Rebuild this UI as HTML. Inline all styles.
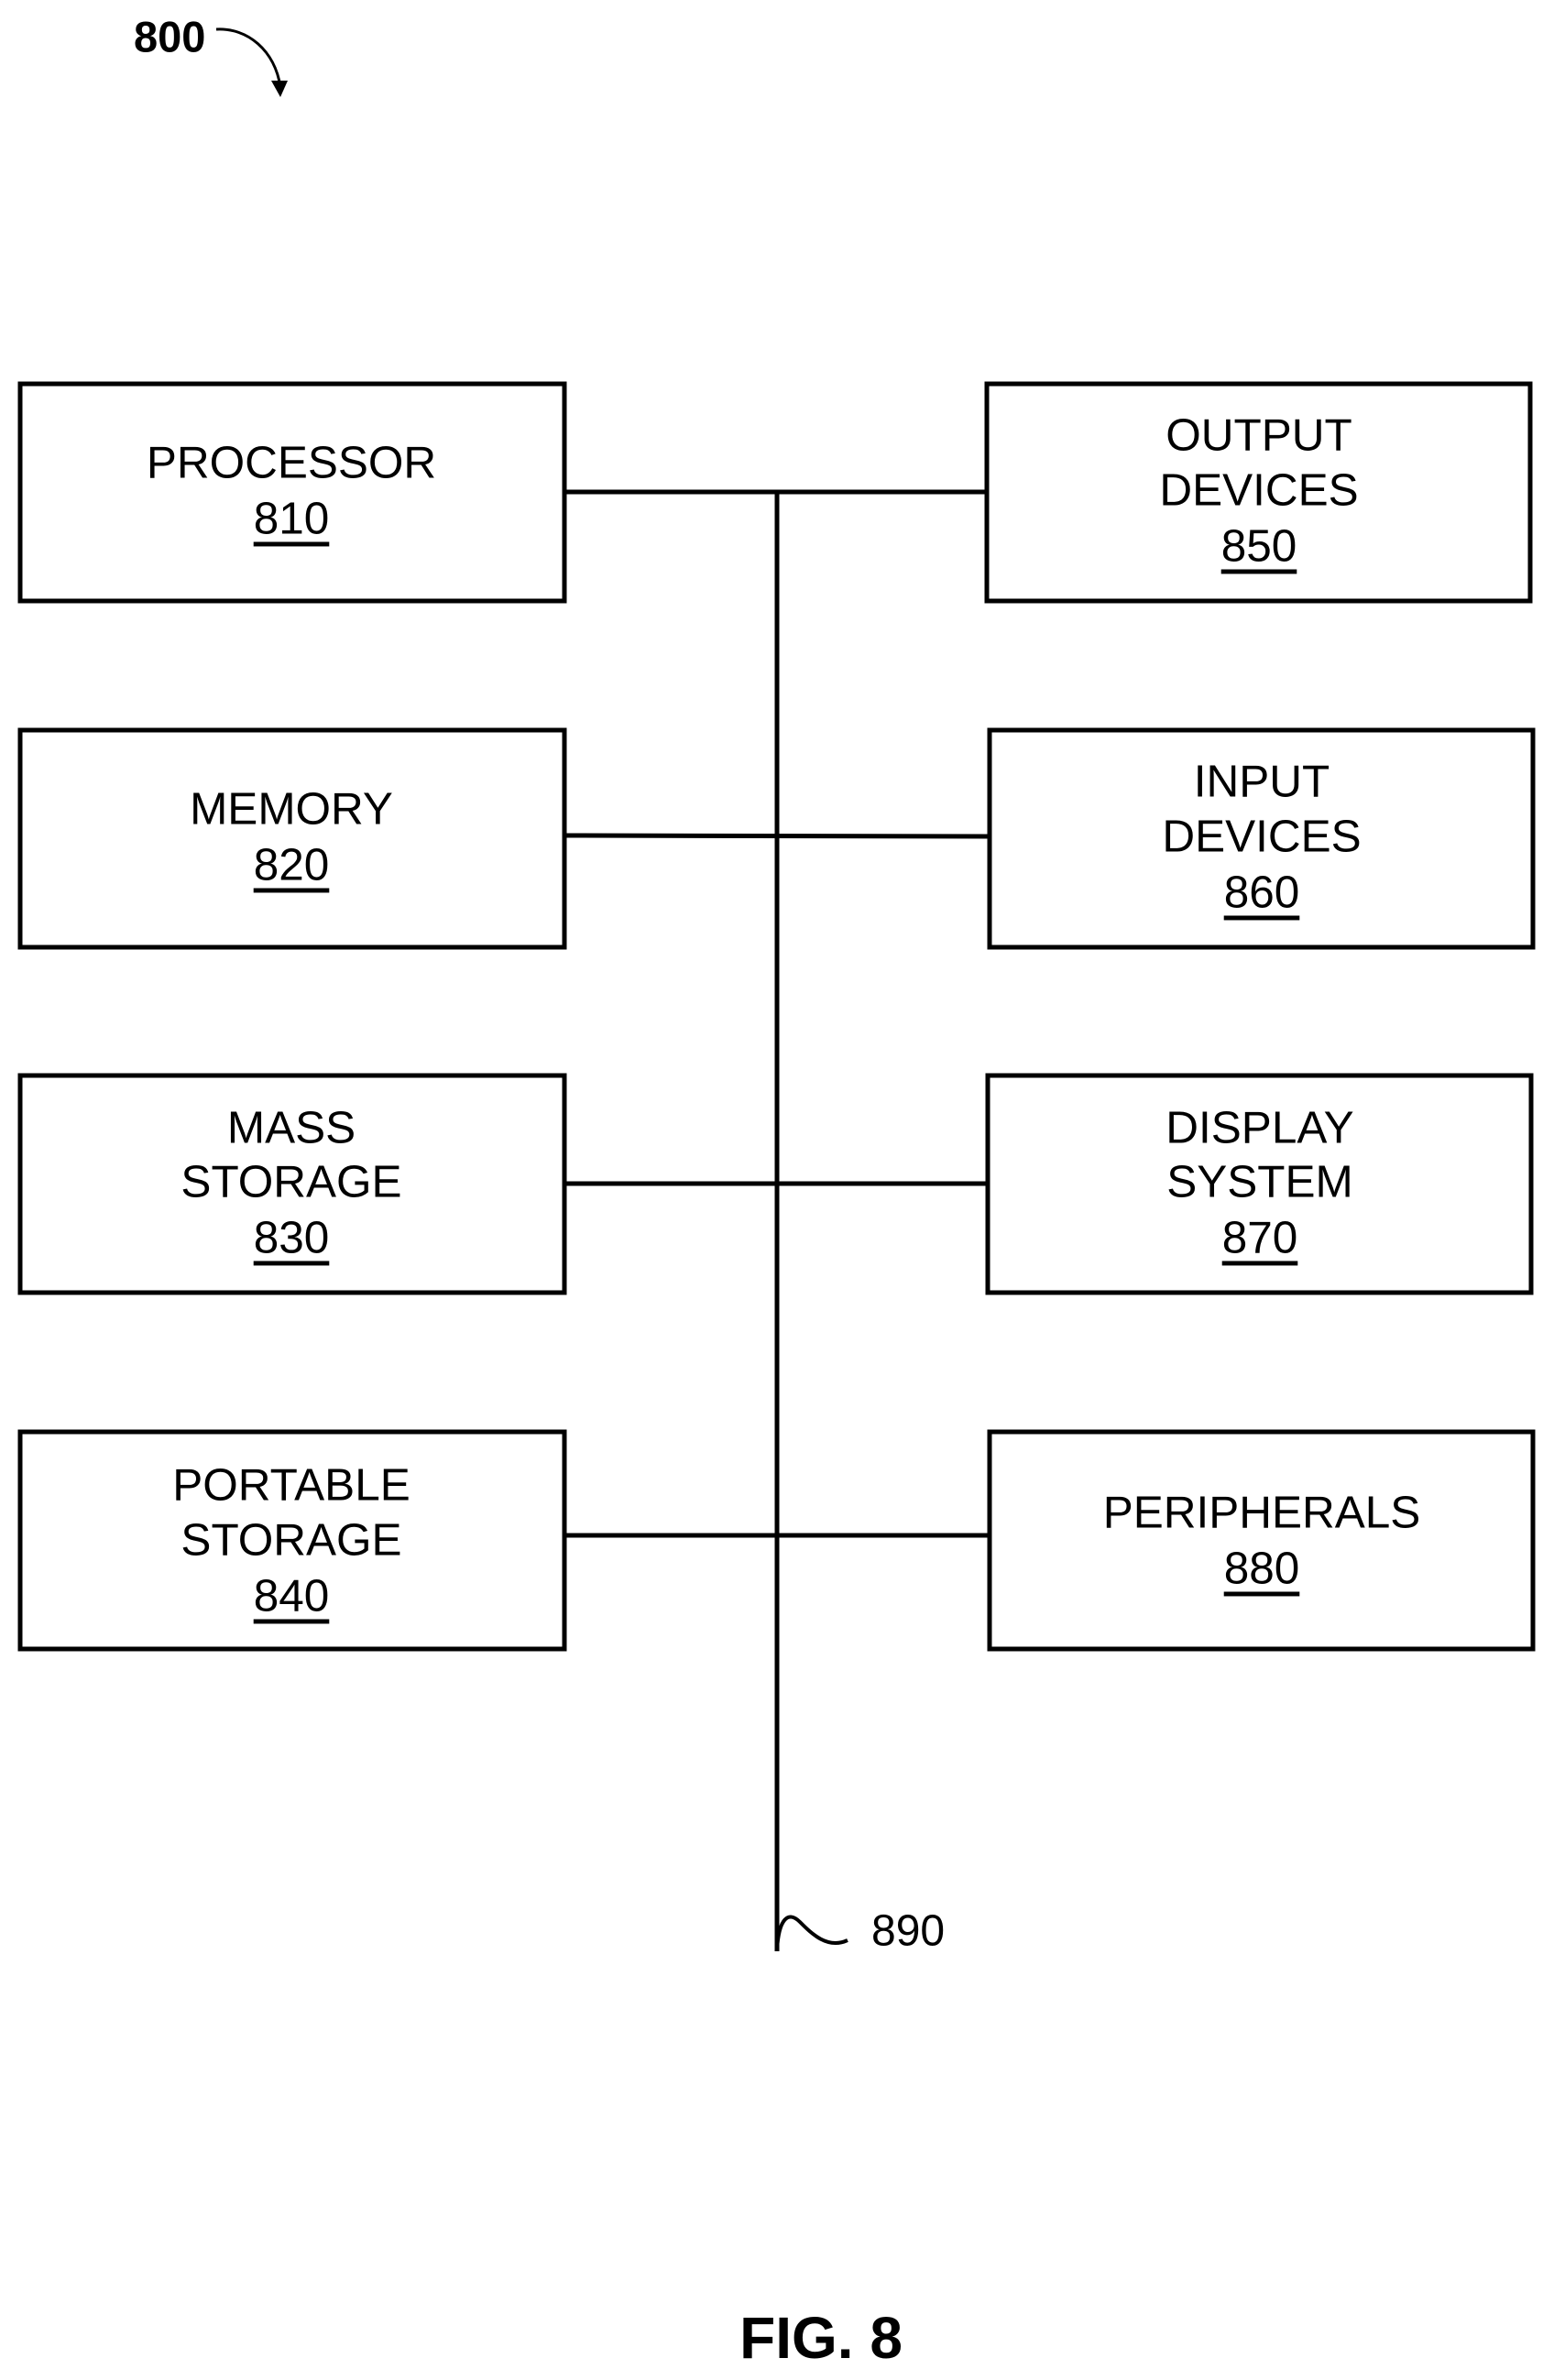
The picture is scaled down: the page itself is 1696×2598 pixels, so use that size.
<!DOCTYPE html>
<html><head><meta charset="utf-8"><style>
html,body{margin:0;padding:0;background:#fff;}
svg{display:block;}
text{font-family:"Liberation Sans",sans-serif;fill:#000;}
.t{font-size:49.5px;text-anchor:middle;dominant-baseline:central;}
.u{text-decoration:underline;}
</style></head><body>
<svg width="1696" height="2598" viewBox="0 0 1696 2598" xmlns="http://www.w3.org/2000/svg">
<g fill="none" stroke="#000" stroke-width="5">
<rect x="22" y="419" width="594" height="237"/>
<rect x="1077" y="419" width="593" height="237"/>
<rect x="22" y="797" width="594" height="237"/>
<rect x="1080" y="797" width="593" height="237"/>
<rect x="22" y="1174" width="594" height="237"/>
<rect x="1078" y="1174" width="593" height="237"/>
<rect x="22" y="1563" width="594" height="237"/>
<rect x="1080" y="1563" width="593" height="237"/>
<line x1="848" y1="535" x2="848" y2="2130"/>
<line x1="616" y1="537" x2="1077" y2="537"/>
<line x1="616" y1="912" x2="1080" y2="913"/>
<line x1="616" y1="1292" x2="1078" y2="1292"/>
<line x1="616" y1="1676" x2="1080" y2="1676"/>
<path d="M848 2128 C850 2095 860 2085 873 2098 S903 2128 925 2118" stroke-width="4"/>
<path d="M236 32 C270 30 300 55 306 95" stroke-width="3"/>
</g>
<path d="M296 88 L306 106 L314 88 Z" fill="#000"/>
<text x="146" y="40" style="font-size:47px;font-weight:bold;dominant-baseline:central;">800</text>
<text class="t" x="318" y="505">PROCESSOR</text>
<text class="t u" x="318" y="566">810</text>
<text class="t" x="318" y="883">MEMORY</text>
<text class="t u" x="318" y="944">820</text>
<text class="t" x="318" y="1231">MASS</text>
<text class="t" x="318" y="1290">STORAGE</text>
<text class="t u" x="318" y="1351">830</text>
<text class="t" x="318" y="1621">PORTABLE</text>
<text class="t" x="318" y="1681">STORAGE</text>
<text class="t u" x="318" y="1742">840</text>
<text class="t" x="1374" y="475">OUTPUT</text>
<text class="t" x="1374" y="535">DEVICES</text>
<text class="t u" x="1374" y="596">850</text>
<text class="t" x="1377" y="853">INPUT</text>
<text class="t" x="1377" y="913">DEVICES</text>
<text class="t u" x="1377" y="974">860</text>
<text class="t" x="1375" y="1231">DISPLAY</text>
<text class="t" x="1375" y="1290">SYSTEM</text>
<text class="t u" x="1375" y="1351">870</text>
<text class="t" x="1377" y="1651">PERIPHERALS</text>
<text class="t u" x="1377" y="1712">880</text>
<text x="951" y="2108" style="font-size:48px;dominant-baseline:central;">890</text>
<text x="896" y="2552" style="font-size:64px;font-weight:bold;text-anchor:middle;dominant-baseline:central;">FIG. 8</text>
</svg>
</body></html>
